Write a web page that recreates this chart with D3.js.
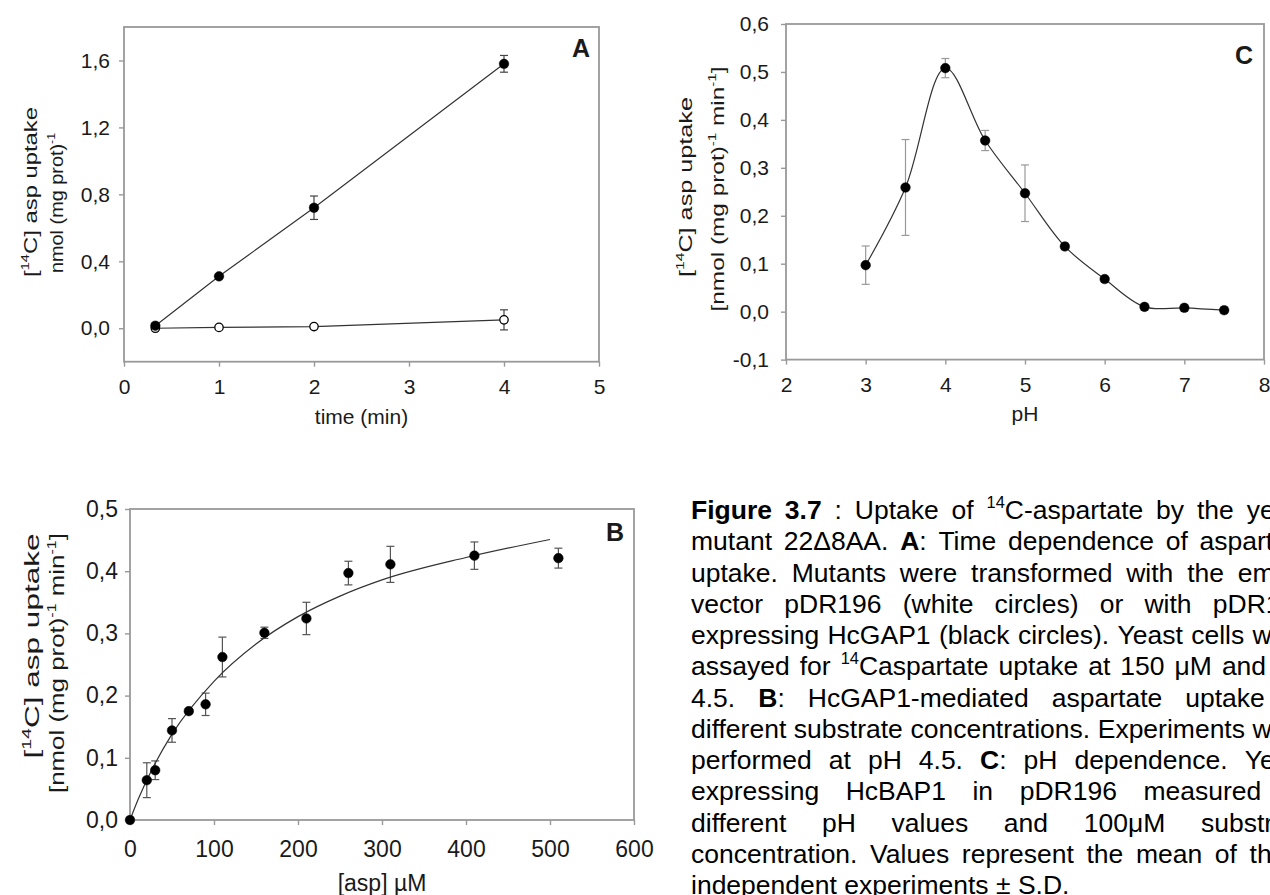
<!DOCTYPE html>
<html>
<head>
<meta charset="utf-8">
<style>
  body { margin: 0; background: #fff; }
  svg { display: block; }
  .frame { fill: none; stroke: #999; stroke-width: 1.8; }
  .tick line { stroke: #999; stroke-width: 1.4; }
  .tick text { font-family: "Liberation Sans", Arial, sans-serif; fill: #1a1a1a; }
  .title { font-family: "Liberation Sans", Arial, sans-serif; fill: #1a1a1a; }
  .err { stroke-width: 1.2; fill: none; }
  .fit { stroke: #333; stroke-width: 1.2; fill: none; }
  .cap { font-family: "Liberation Sans", Arial, sans-serif; fill: #000; }
</style>
<script src="https://cdn.jsdelivr.net/npm/d3@7/dist/d3.min.js"></script>
</head>
<body>
<script>
// ---- panel A : time course (min) ----
var timeMin      = [0.33, 1, 2, 4];
var gapUptake    = [0.015, 0.31, 0.72, 1.58];
var gapErr       = [0.008, 0.012, 0.07, 0.05];
var emptyUptake  = [0.0, 0.005, 0.01, 0.05];
var emptyErr     = [0.005, 0.004, 0.006, 0.06];
var ticksTime    = [0, 1, 2, 3, 4, 5];
var ticksUptakeA = [0, 0.4, 0.8, 1.2, 1.6];

// ---- panel B : substrate concentration ----
var aspConc   = [0, 20, 30, 50, 70, 90, 110, 160, 210, 260, 310, 410, 510];
var aspUptake = [0, 0.064, 0.080, 0.144, 0.175, 0.186, 0.262, 0.301, 0.324, 0.397, 0.411, 0.425, 0.421];
var aspErr    = [0, 0.028, 0.015, 0.019, 0.004, 0.018, 0.032, 0.009, 0.026, 0.019, 0.029, 0.022, 0.016];
var fitConc   = [0, 10, 25, 50, 100, 150, 200, 250, 300, 400, 500];
var fitUptake = [0, 0.034, 0.078, 0.138, 0.223, 0.283, 0.327, 0.360, 0.386, 0.422, 0.451];
var ticksConc    = [0, 100, 200, 300, 400, 500, 600];
var ticksUptakeB = [0, 0.1, 0.2, 0.3, 0.4, 0.5];

// ---- panel C : pH dependence ----
var phValues = [3, 3.5, 4, 4.5, 5, 5.5, 6, 6.5, 7, 7.5];
var phUptake = [0.097, 0.259, 0.508, 0.357, 0.247, 0.136, 0.068, 0.010, 0.008, 0.003];
var phErr    = [0.04, 0.10, 0.02, 0.021, 0.059, 0.007, 0.006, 0.007, 0.007, 0.007];
var ticksPh      = [2, 3, 4, 5, 6, 7, 8];
var ticksUptakeC = [-0.1, 0, 0.1, 0.2, 0.3, 0.4, 0.5, 0.6];

// caption, one entry per printed line (** bold, ^ superscript)
var captionLines = [
  "**Figure** **3.7** : Uptake of ^14^C-aspartate by the yeast",
  "mutant 22\u03948AA. **A**: Time dependence of aspartate",
  "uptake. Mutants were transformed with the empty",
  "vector pDR196 (white circles) or with pDR196",
  "expressing HcGAP1 (black circles). Yeast cells were",
  "assayed for ^14^Caspartate uptake at 150 \u03bcM and pH",
  "4.5. **B**: HcGAP1-mediated aspartate uptake at",
  "different substrate concentrations. Experiments were",
  "performed at pH 4.5. **C**: pH dependence. Yeast",
  "expressing HcBAP1 in pDR196 measured at",
  "different pH values and 100\u03bcM substrate",
  "concentration. Values represent the mean of three",
  "independent experiments \u00b1 S.D."
];

var svg = d3.select("body").append("svg")
    .attr("width", 1270)
    .attr("height", 895);

function comma(d) {
  return d3.format(".1f")(d).replace(".", ",").replace("\u2212", "-");
}

// rich text: **bold**, ^sup^
function rich(sel, str, fs) {
  var parts = str.split(/(\*\*[^*]+\*\*|\^[^\^]+\^)/).filter(function(s) { return s.length; });
  var lift = 0;
  parts.forEach(function(p) {
    var t = sel.append("tspan");
    if (p.indexOf("^") === 0) {
      t.attr("font-size", fs * 0.62).attr("dy", -fs * 0.42).text(p.slice(1, -1));
      lift = fs * 0.42;
      return;
    }
    if (p.indexOf("**") === 0) t.attr("font-weight", "bold").text(p.slice(2, -2));
    else t.text(p);
    if (lift) { t.attr("dy", lift); lift = 0; }
  });
}

function panel(o) {
  var x = d3.scaleLinear().domain(o.xd).range([o.left, o.right]);
  var y = d3.scaleLinear().domain(o.yd).range([o.bottom, o.top]);
  var g = svg.append("g");

  var xa = g.append("g")
      .attr("transform", "translate(0," + o.bottom + ")")
      .call(d3.axisBottom(x).tickValues(o.xt).tickSize(5).tickPadding(o.xpad).tickFormat(d3.format("d")));
  var ya = g.append("g")
      .attr("transform", "translate(" + o.left + ",0)")
      .call(d3.axisLeft(y).tickValues(o.yt).tickSize(5).tickPadding(o.ypad).tickFormat(comma));
  xa.select(".domain").remove();
  ya.select(".domain").remove();
  xa.attr("font-size", null).attr("font-family", null);
  ya.attr("font-size", null).attr("font-family", null);
  xa.selectAll("text").style("font-size", o.fs + "px");
  ya.selectAll("text").style("font-size", o.fs + "px");

  g.append("rect").attr("class", "frame")
      .attr("x", o.left).attr("y", o.top)
      .attr("width", o.right - o.left).attr("height", o.bottom - o.top);

  // x title
  g.append("text").attr("class", "title")
      .attr("x", (o.left + o.right) / 2).attr("y", o.xtitleY)
      .attr("text-anchor", "middle")
      .style("font-size", o.tfs + "px")
      .text(o.xtitle);

  // y title, two lines, stretched along the text like the scanned figure
  o.ytitle.forEach(function(line) {
    var t = g.append("text").attr("class", "title")
        .attr("transform", "translate(" + line.x + "," + line.cy + ") rotate(-90)")
        .attr("x", -line.len / 2)
        .attr("textLength", line.len)
        .attr("lengthAdjust", "spacingAndGlyphs")
        .style("font-size", o.yfs + "px");
    rich(t, line.s, o.yfs);
  });

  // panel letter
  g.append("text").attr("class", "title")
      .attr("x", o.letter[0]).attr("y", o.letter[1])
      .attr("text-anchor", "end")
      .style("font-size", "25px").style("font-weight", "bold")
      .text(o.letter[2]);

  return {x: x, y: y, g: g};
}

function errorBars(p, xs, ys, es, colour) {
  var cap = 4;
  var e = p.g.append("g").attr("class", "err").attr("stroke", colour);
  xs.forEach(function(v, i) {
    if (!es[i]) return;
    var cx = p.x(v), y1 = p.y(ys[i] - es[i]), y2 = p.y(ys[i] + es[i]);
    e.append("line").attr("x1", cx).attr("x2", cx).attr("y1", y1).attr("y2", y2);
    e.append("line").attr("x1", cx - cap).attr("x2", cx + cap).attr("y1", y1).attr("y2", y1);
    e.append("line").attr("x1", cx - cap).attr("x2", cx + cap).attr("y1", y2).attr("y2", y2);
  });
}

function dots(p, xs, ys, filled) {
  p.g.append("g").selectAll("circle")
    .data(xs).enter().append("circle")
      .attr("cx", function(d) { return p.x(d); })
      .attr("cy", function(d, i) { return p.y(ys[i]); })
      .attr("r", filled ? 4.8 : 4.2)
      .attr("fill", filled ? "#000" : "#fff")
      .attr("stroke", "#000")
      .attr("stroke-width", filled ? 0.5 : 1.3);
}

function pathThrough(p, xs, ys, curve) {
  var line = d3.line()
      .x(function(d) { return p.x(d); })
      .y(function(d, i) { return p.y(ys[i]); })
      .curve(curve);
  p.g.append("path").attr("class", "fit").attr("d", line(xs));
}

// ---------- A ----------
var pA = panel({
  left: 124, right: 599, top: 27, bottom: 361.7,
  xd: [0, 5], yd: [-0.2, 1.8], xt: ticksTime, yt: ticksUptakeA,
  fs: 21, tfs: 21, yfs: 19, xpad: 12, ypad: 9,
  xtitle: "time (min)", xtitleY: 424,
  ytitle: [
    {s: "[^14^C] asp uptake", x: 37, cy: 192, len: 170},
    {s: "nmol (mg prot)^-1^", x: 63, cy: 203, len: 140}
  ],
  letter: [590, 57, "A"]
});
pathThrough(pA, timeMin, gapUptake, d3.curveLinear);
pathThrough(pA, timeMin, emptyUptake, d3.curveLinear);
errorBars(pA, timeMin, gapUptake, gapErr, "#444");
errorBars(pA, timeMin, emptyUptake, emptyErr, "#444");
dots(pA, timeMin, emptyUptake, false);
dots(pA, timeMin, gapUptake, true);

// ---------- C ----------
var pC = panel({
  left: 786, right: 1264, top: 24, bottom: 359.6,
  xd: [2, 8], yd: [-0.1, 0.6], xt: ticksPh, yt: ticksUptakeC,
  fs: 21, tfs: 21, yfs: 19, xpad: 12, ypad: 12,
  xtitle: "pH", xtitleY: 421,
  ytitle: [
    {s: "[^14^C] asp uptake", x: 692, cy: 187, len: 180},
    {s: "[nmol (mg prot)^-1^ min^-1^]", x: 724, cy: 189, len: 245}
  ],
  letter: [1253, 64, "C"]
});
errorBars(pC, phValues, phUptake, phErr, "#999");
pathThrough(pC, phValues, phUptake, d3.curveCatmullRom.alpha(0.5));
dots(pC, phValues, phUptake, true);

// ---------- B ----------
var pB = panel({
  left: 130, right: 634, top: 509, bottom: 820,
  xd: [0, 600], yd: [0, 0.5], xt: ticksConc, yt: ticksUptakeB,
  fs: 23, tfs: 23, yfs: 20, xpad: 16, ypad: 7,
  xtitle: "[asp] \u00b5M", xtitleY: 891,
  ytitle: [
    {s: "[^14^C] asp uptake", x: 39, cy: 646, len: 225},
    {s: "[nmol (mg prot)^-1^ min^-1^]", x: 64, cy: 663, len: 260}
  ],
  letter: [624, 541, "B"]
});
errorBars(pB, aspConc, aspUptake, aspErr, "#555");
pathThrough(pB, fitConc, fitUptake, d3.curveMonotoneX);
dots(pB, aspConc, aspUptake, true);

// ---------- caption (justified, runs off the right edge like the scan) ----------
var capLeft = 691, capRight = 1310, capFs = 26.5, capTop = 519, capStep = 31.25;
var cap = svg.append("g").attr("class", "cap").style("font-size", capFs + "px");
captionLines.forEach(function(line, li) {
  var words = line.split(" ");
  var nodes = words.map(function(w) {
    var t = cap.append("text").attr("y", capTop + li * capStep);
    rich(t, w, capFs);
    return t;
  });
  var widths = nodes.map(function(t) { return t.node().getComputedTextLength(); });
  var total = d3.sum(widths);
  var last = li === captionLines.length - 1;
  var gap = last ? capFs * 0.278 : (capRight - capLeft - total) / (words.length - 1);
  var xpos = capLeft;
  nodes.forEach(function(t, i) {
    t.attr("x", xpos);
    xpos += widths[i] + gap;
  });
});
</script>
</body>
</html>
